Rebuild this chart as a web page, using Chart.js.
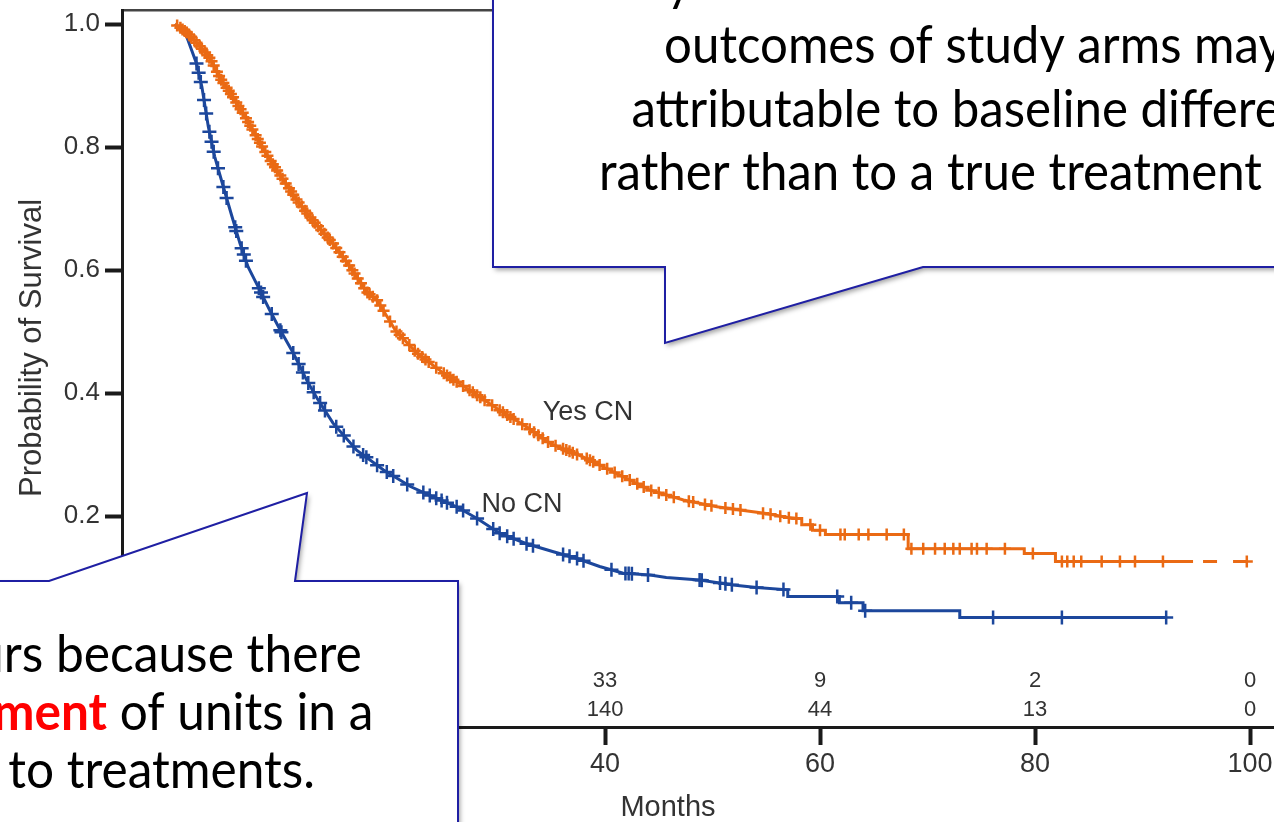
<!DOCTYPE html>
<html>
<head>
<meta charset="utf-8">
<script src="https://cdn.jsdelivr.net/npm/chart.js@4.4.1/dist/chart.umd.min.js"></script>
<style>
html,body{margin:0;padding:0;background:#fff;overflow:hidden;}
canvas{display:block;}
</style>
</head>
<body>
<canvas id="c" width="1274" height="822"></canvas>
<script>
// ---------------- DATA ----------------
const yesCnTimes = [0, 1.2, 2.6, 3.3, 4.2, 5.4, 6.5, 7.6, 8.8, 10.1, 11.4, 12.8, 14.7, 16.3, 17.8, 18.8, 20.5, 22.5, 25.0, 27.8, 30.2, 32.7, 34.9, 38.0, 41.1, 44.2, 47.3, 50.4, 52.9, 55.0, 57.5, 58.3, 58.3, 59.3, 59.3, 60.5, 60.5, 68.2, 68.2, 79.0, 79.0, 81.9, 81.9, 94.7, 99.7];
const yesCnSurv  = [1.0, 0.985, 0.958, 0.943, 0.912, 0.881, 0.850, 0.816, 0.780, 0.746, 0.712, 0.681, 0.643, 0.605, 0.565, 0.551, 0.502, 0.465, 0.432, 0.400, 0.372, 0.345, 0.318, 0.296, 0.269, 0.242, 0.226, 0.215, 0.209, 0.204, 0.196, 0.196, 0.186, 0.186, 0.177, 0.177, 0.170, 0.170, 0.147, 0.147, 0.139, 0.139, 0.126, 0.126, 0.126];

const noCnTimes = [0, 1.1, 2.0, 2.5, 3.1, 3.7, 4.5, 5.3, 6.05, 6.8, 7.9, 8.8, 9.8, 11.0, 12.25, 13.2, 14.7, 16.9, 19.4, 21.9, 24.0, 26.2, 28.1, 30.2, 32.7, 35.2, 37.4, 39.5, 41.7, 44.2, 45.7, 48.8, 51.9, 54.1, 57.0, 57.0, 61.8, 61.8, 64.0, 64.0, 73.0, 73.0, 92.2];
const noCnSurv  = [1.0, 0.979, 0.936, 0.898, 0.833, 0.784, 0.735, 0.687, 0.643, 0.605, 0.567, 0.535, 0.502, 0.465, 0.421, 0.392, 0.351, 0.307, 0.275, 0.248, 0.231, 0.215, 0.196, 0.172, 0.155, 0.142, 0.131, 0.118, 0.107, 0.104, 0.100, 0.096, 0.088, 0.084, 0.080, 0.069, 0.069, 0.059, 0.059, 0.046, 0.046, 0.035, 0.035];

const yesCnCensor = [0.2, 0.5, 0.7, 0.9, 1.1, 1.3, 1.5, 1.8, 2.0, 2.3, 2.5, 2.8, 3.0, 3.2, 3.4, 3.6, 3.9, 4.1, 4.3, 4.5, 4.8, 5.0, 5.2, 5.4, 5.7, 5.9, 6.1, 6.3, 6.6, 6.8, 7.0, 7.2, 7.5, 7.7, 7.9, 8.1, 8.4, 8.6, 8.9, 9.1, 9.3, 9.5, 9.8, 10.0, 10.3, 10.6, 10.8, 11.0, 11.3, 11.5, 11.8, 12.1, 12.3, 12.6, 12.8, 13.0, 13.3, 13.6, 13.9, 14.2, 14.4, 14.7, 15.0, 15.3, 15.6, 15.9, 16.2, 16.5, 16.7, 17.0, 17.3, 17.6, 17.9, 18.1, 18.4,
  18.8, 19.1, 19.4, 20.0, 20.6, 20.9, 21.2, 21.8, 22.3, 22.6, 23.0, 23.3, 23.6, 24.3, 25.0, 25.3, 25.6, 25.9, 26.2, 26.8, 27.4, 27.7, 28.1, 28.4, 28.8, 29.5, 30.2, 30.5, 30.9, 31.2, 31.5, 32.3, 33.0, 33.4, 33.8, 34.2, 34.7, 35.4, 36.1, 36.4, 36.7, 37.0, 37.4, 38.3, 38.6, 38.9, 39.5, 40.2, 40.9, 41.6, 42.3, 43.0, 43.6, 44.3, 45.0, 45.7, 46.4, 47.8, 48.2, 49.3, 49.9, 51.2, 51.9, 52.6, 54.7, 55.4, 56.3, 57.1, 57.8,
  59.1, 60.0, 61.9, 62.3, 63.6, 64.5, 66.2, 67.8, 68.5, 69.6, 70.7, 71.6, 72.4, 73.0, 74.1, 74.6, 75.5, 77.2, 79.8, 82.5, 83.0, 83.6, 84.3, 86.2, 87.9, 89.3, 91.9, 99.7];
const noCnCensor = [2.0, 2.2, 2.4, 2.7, 2.9, 3.2, 3.4, 3.6, 4.0, 4.5, 4.8, 5.6, 5.7, 6.2, 6.4, 6.6, 7.8, 8.0, 8.2, 9.0, 9.8, 9.9, 11.0, 11.5, 11.9, 12.4, 12.9, 13.5, 13.95, 15.0, 15.7, 16.6, 17.5, 17.8, 18.8, 19.7, 20.3, 21.6, 23.1, 23.7, 24.3, 24.8, 25.3, 26.2, 26.8, 28.1, 29.6, 30.2, 30.9, 31.5, 32.7, 33.3, 36.1, 36.7, 37.4, 38.0, 40.6, 41.9, 42.2, 42.5, 44.0, 48.8, 49.0, 50.7, 51.2, 51.8, 54.1, 56.6, 61.6, 62.9, 64.2, 76.1, 82.5, 92.2];

const xTickValues = [0, 20, 40, 60, 80, 100];
const yTickValues = [0, 0.2, 0.4, 0.6, 0.8, 1.0];
const riskTimes = [40, 60, 80, 100];
const riskRowTop = [33, 9, 2, 0];
const riskRowBottom = [140, 44, 13, 0];

const seriesLabels = ['Yes CN', 'No CN'];
const xTitle = 'Months';
const yTitle = 'Probability of Survival';

const topCalloutLines = ['Any difference in the', 'outcomes of study arms may be', 'attributable to baseline differences', 'rather than to a true treatment effect.'];
const lowCalloutLine1 = 'Selection bias occurs because there';
const lowCalloutLine1Visible = 'rs because there';
const lowCalloutLine2a = 'is non-random ';
const lowCalloutLine2b = 'assignment';
const lowCalloutLine2c = ' of units in a';
const lowCalloutLine3a = 'study ';
const lowCalloutLine3b = 'to treatments.';

// ---------------- STYLE ----------------
const ORANGE = '#EA6A14';
const BLUE = '#1C479C';
const AXIS = '#1a1a1a';
const TXT = '#333333';
const SANS = '"Liberation Sans", Arial, Helvetica, sans-serif';
const CAL = 'Lato, "Open Sans", sans-serif';
const CALLOUT_BORDER = '#1F1FA3';

function survAt(times, surv, t) {
  for (let i = 1; i < times.length; i++) {
    if (times[i] > times[i - 1] && t >= times[i - 1] && t <= times[i]) {
      const f = (t - times[i - 1]) / (times[i] - times[i - 1]);
      return surv[i - 1] + f * (surv[i] - surv[i - 1]);
    }
  }
  return surv[surv.length - 1];
}

const yesLine = yesCnTimes.map((t, i) => ({x: t, y: yesCnSurv[i]}));
const noLine = noCnTimes.map((t, i) => ({x: t, y: noCnSurv[i]}));
const yesMarks = yesCnCensor.map(t => ({x: t, y: survAt(yesCnTimes, yesCnSurv, t)}));
const noMarks = noCnCensor.map(t => ({x: t, y: survAt(noCnTimes, noCnSurv, t)}));

function scaledText(ctx, text, x, y, align, sx) {
  ctx.save();
  ctx.translate(x, y);
  ctx.scale(sx, 1);
  ctx.textAlign = align;
  ctx.fillText(text, 0, 0);
  ctx.restore();
}

function calloutShape(ctx, pts) {
  ctx.save();
  ctx.beginPath();
  pts.forEach((p, i) => i ? ctx.lineTo(p[0], p[1]) : ctx.moveTo(p[0], p[1]));
  ctx.closePath();
  ctx.shadowColor = 'rgba(0,0,0,0.38)';
  ctx.shadowBlur = 5;
  ctx.shadowOffsetX = 2;
  ctx.shadowOffsetY = 3;
  ctx.fillStyle = '#ffffff';
  ctx.fill();
  ctx.shadowColor = 'transparent';
  ctx.lineWidth = 2;
  ctx.strokeStyle = CALLOUT_BORDER;
  ctx.stroke();
  ctx.restore();
}

function zeroPad(s) {
  s.paddingLeft = 0; s.paddingRight = 0; s.paddingTop = 0; s.paddingBottom = 0;
}

const overlay = {
  id: 'overlay',
  afterDraw(chart) {
    const ctx = chart.ctx;
    const xs = chart.scales.x, ys = chart.scales.y;
    const area = chart.chartArea;
    ctx.save();
    // numbers at risk
    ctx.font = '22px ' + SANS;
    ctx.fillStyle = TXT;
    ctx.textAlign = 'center';
    ctx.textBaseline = 'middle';
    riskTimes.forEach((t, i) => {
      const px = xs.getPixelForValue(t);
      ctx.fillText(String(riskRowTop[i]), px, area.bottom - 46);
      ctx.fillText(String(riskRowBottom[i]), px, area.bottom - 17);
    });
    // curve labels
    ctx.font = '27px ' + SANS;
    ctx.textAlign = 'left';
    ctx.textBaseline = 'alphabetic';
    ctx.fillText(seriesLabels[0], xs.getPixelForValue(34.2), ys.getPixelForValue(0.356));
    ctx.fillText(seriesLabels[1], xs.getPixelForValue(28.5), ys.getPixelForValue(0.207));
    // axis titles
    ctx.font = '29px ' + SANS;
    ctx.textAlign = 'center';
    ctx.fillText(xTitle, 668, 816);
    ctx.save();
    ctx.translate(41, 348);
    ctx.rotate(-Math.PI / 2);
    ctx.font = '31px ' + SANS;
    ctx.fillText(yTitle, 0, 0);
    ctx.restore();

    // callouts
    calloutShape(ctx, [[493, -10], [493, 267], [665, 267], [665, 343], [923, 267], [1300, 267], [1300, -10]]);
    calloutShape(ctx, [[-10, 581], [49, 581], [307, 493], [295, 581], [458, 581], [458, 840], [-10, 840]]);

    // top callout text
    ctx.fillStyle = '#000';
    ctx.textBaseline = 'alphabetic';
    ctx.font = '52px ' + CAL;
    const sxTop = 812 / ctx.measureText(topCalloutLines[3]).width;
    const cx = 1005;
    const prefixW = ctx.measureText('An').width * sxTop;
    scaledText(ctx, topCalloutLines[0], 667 - prefixW, 0, 'left', sxTop);
    scaledText(ctx, topCalloutLines[1], cx + 2, 63.3, 'center', sxTop);
    scaledText(ctx, topCalloutLines[2], cx, 126.5, 'center', sxTop);
    scaledText(ctx, topCalloutLines[3], cx, 189.8, 'center', sxTop);

    // lower callout text
    ctx.font = '52px ' + CAL;
    const sxLow = 306.7 / ctx.measureText(lowCalloutLine3b).width;
    const sx1 = 358 / ctx.measureText(lowCalloutLine1Visible).width;
    scaledText(ctx, lowCalloutLine1, 361.7, 671.7, 'right', sx1);
    const wC = ctx.measureText(lowCalloutLine2c).width * sxLow;
    const startC = 373.3 - wC;
    scaledText(ctx, lowCalloutLine2c, startC, 730, 'left', sxLow);
    ctx.font = '700 52px ' + CAL;
    ctx.fillStyle = '#FF0000';
    const wB = ctx.measureText(lowCalloutLine2b).width * sxLow;
    scaledText(ctx, lowCalloutLine2b, startC, 730, 'right', sxLow);
    ctx.font = '52px ' + CAL;
    ctx.fillStyle = '#000';
    scaledText(ctx, lowCalloutLine2a, startC - wB, 730, 'right', sxLow);
    scaledText(ctx, lowCalloutLine3b, 8.3, 788.3, 'left', sxLow);
    scaledText(ctx, lowCalloutLine3a, 8.3, 788.3, 'right', sxLow);
    ctx.restore();
  }
};

function build() {
  Chart.defaults.font.family = SANS;
  new Chart(document.getElementById('c'), {
    data: {
      datasets: [
        {type: 'scatter', label: 'Yes CN censored', data: yesMarks, xAxisID: 'x', yAxisID: 'y',
         pointStyle: 'cross', pointRadius: 6, borderWidth: 2.5, borderColor: ORANGE, backgroundColor: ORANGE, showLine: false, order: 0},
        {type: 'line', label: 'Yes CN', data: yesLine, xAxisID: 'x', yAxisID: 'y',
         borderColor: ORANGE, borderWidth: 3, pointRadius: 0, tension: 0, fill: false, order: 1,
         segment: {
           borderDash: c => c.p0.parsed.x >= 94.5 ? [14, 16] : undefined,
           borderDashOffset: c => c.p0.parsed.x >= 94.5 ? 20 : undefined
         }},
        {type: 'scatter', label: 'No CN censored', data: noMarks, xAxisID: 'x', yAxisID: 'y',
         pointStyle: 'cross', pointRadius: 7, borderWidth: 2.5, borderColor: BLUE, backgroundColor: BLUE, showLine: false, order: 2},
        {type: 'line', label: 'No CN', data: noLine, xAxisID: 'x', yAxisID: 'y',
         borderColor: BLUE, borderWidth: 3, pointRadius: 0, tension: 0, fill: false, order: 3}
      ]
    },
    options: {
      responsive: false,
      devicePixelRatio: 1,
      animation: false,
      events: [],
      layout: {autoPadding: false, padding: {left: 0, top: 0, right: 0, bottom: 0}},
      plugins: {legend: {display: false}, tooltip: {enabled: false}},
      scales: {
        x: {
          type: 'linear', position: 'bottom', min: -4.93, max: 102.23,
          afterBuildTicks: s => { s.ticks = xTickValues.map(v => ({value: v})); },
          afterFit: s => { s.height = 95; zeroPad(s); },
          grid: {drawOnChartArea: false, drawTicks: true, tickLength: 18, tickWidth: 4, tickColor: AXIS},
          border: {display: true, color: AXIS, width: 3},
          ticks: {font: {size: 27, family: SANS}, color: TXT, padding: 3, maxRotation: 0, autoSkip: false, callback: v => String(v)}
        },
        x2: {
          type: 'linear', position: 'top', min: -4.93, max: 102.23,
          afterFit: s => { s.height = 10; zeroPad(s); },
          grid: {drawOnChartArea: false, drawTicks: false},
          border: {display: true, color: '#444', width: 2.5},
          ticks: {display: false}
        },
        y: {
          type: 'linear', position: 'left', min: -0.143, max: 1.0228,
          afterBuildTicks: s => { s.ticks = yTickValues.map(v => ({value: v})); },
          afterFit: s => { s.width = 122; zeroPad(s); },
          grid: {drawOnChartArea: false, drawTicks: true, tickLength: 17, tickWidth: 4, tickColor: AXIS},
          border: {display: true, color: AXIS, width: 3},
          ticks: {font: {size: 26, family: SANS}, color: TXT, padding: 5, callback: v => Number(v).toFixed(1)}
        }
      }
    },
    plugins: [overlay]
  });
}

const fontLoads = ['52px Lato', '700 52px Lato', '26px "Liberation Sans"'].map(f => document.fonts.load(f).catch(() => null));
Promise.race([Promise.all(fontLoads), new Promise(r => setTimeout(r, 1500))]).then(build);
</script>
</body>
</html>
